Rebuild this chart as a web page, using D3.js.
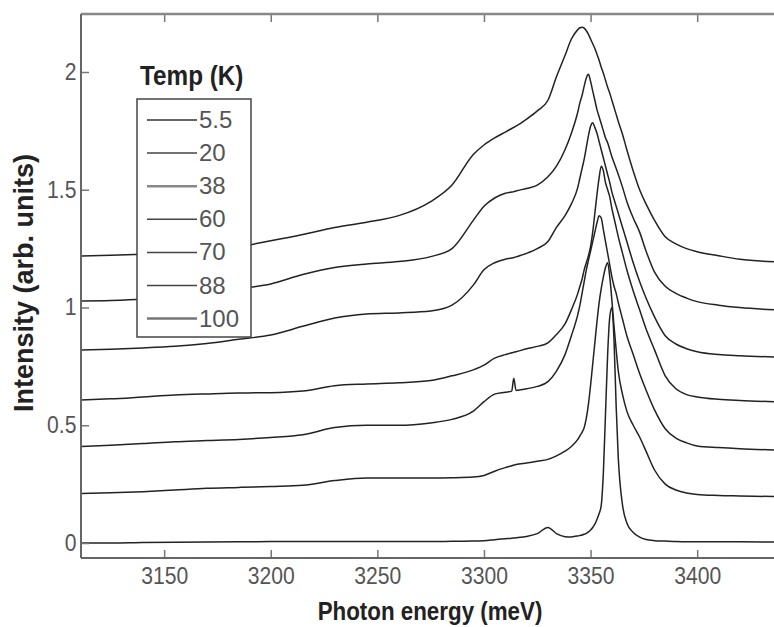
<!DOCTYPE html>
<html>
<head>
<meta charset="utf-8">
<title>PL spectra</title>
<script src="https://d3js.org/d3.v7.min.js"></script>
<style>
	body { margin: 0; background: #fff; }
	svg { display: block; font-family: 'Liberation Sans', Arial, sans-serif; }
	.axis path { display: none; }
	.axis line { stroke: #777; stroke-width: 1.5; }
	.axis text { fill: #555; font-size: 23px; }
	.curve { fill: none; stroke: #222; stroke-width: 1.5; }
</style>
</head>
<body>
<div id="chart"></div>
<script>
	// Photon energy grid (meV), shared by every spectrum.
	const energy = [
		3111, 3125, 3140, 3155, 3170, 3185, 3200, 3215, 3230, 3245, 3260, 3275,
		3285, 3295, 3300, 3305, 3310, 3313, 3314, 3315, 3320, 3325, 3330,
		3334, 3338, 3341, 3344,
		3345, 3346, 3347, 3348, 3349, 3350, 3351, 3352, 3353, 3354, 3355, 3356, 3357, 3358, 3359, 3360, 3361, 3362, 3363,
		3365, 3367, 3370, 3373, 3376, 3380, 3385, 3390, 3395, 3400, 3410, 3420, 3436
	];

	const temps = ['5.5', '20', '38', '60', '70', '88', '100'];

	// Intensities (already offset by 0.2 per temperature, as plotted).
	const int5_5 = [
		0.000, 0.000, 0.002, 0.003, 0.004, 0.005, 0.006, 0.006, 0.006, 0.006, 0.006, 0.006,
		0.007, 0.008, 0.010, 0.014, 0.018, 0.020, 0.021, 0.022, 0.028, 0.040, 0.066,
		0.040, 0.027, 0.026, 0.030,
		0.032, 0.034, 0.037, 0.041, 0.047, 0.055, 0.066, 0.080, 0.100, 0.125, 0.160, 0.300, 0.550, 0.800, 0.960, 1.000, 0.860, 0.580, 0.360,
		0.160, 0.085, 0.045, 0.025, 0.015, 0.010, 0.008, 0.006, 0.005, 0.005, 0.005, 0.005, 0.004
	];
	const int20 = [
		0.210, 0.213, 0.218, 0.225, 0.232, 0.236, 0.240, 0.245, 0.265, 0.276, 0.276, 0.276,
		0.277, 0.280, 0.287, 0.305, 0.320, 0.328, 0.331, 0.333, 0.340, 0.347, 0.355,
		0.370, 0.390, 0.410, 0.440,
		0.455, 0.470, 0.490, 0.530, 0.590, 0.670, 0.760, 0.850, 0.940, 1.020, 1.080, 1.130, 1.170, 1.190, 1.130, 1.030, 0.920, 0.820, 0.730,
		0.630, 0.560, 0.500, 0.450, 0.390, 0.310, 0.250, 0.225, 0.212, 0.206, 0.202, 0.200, 0.197
	];
	const int38 = [
		0.410, 0.415, 0.422, 0.430, 0.435, 0.440, 0.448, 0.460, 0.490, 0.500, 0.500, 0.510,
		0.525, 0.560, 0.600, 0.632, 0.640, 0.645, 0.700, 0.648, 0.655, 0.665, 0.685,
		0.730, 0.800, 0.880, 0.970,
		1.010, 1.060, 1.110, 1.160, 1.200, 1.240, 1.280, 1.320, 1.360, 1.390, 1.380, 1.330, 1.280, 1.230, 1.180, 1.130, 1.090, 1.060, 1.020,
		0.950, 0.880, 0.800, 0.720, 0.650, 0.565, 0.485, 0.445, 0.425, 0.412, 0.405, 0.400, 0.395
	];
	const int60 = [
		0.607, 0.612, 0.620, 0.628, 0.633, 0.637, 0.638, 0.645, 0.668, 0.675, 0.680, 0.690,
		0.710, 0.735, 0.755, 0.785, 0.800, 0.808, 0.810, 0.812, 0.825, 0.835, 0.850,
		0.885, 0.930, 0.990, 1.060,
		1.090, 1.120, 1.160, 1.190, 1.220, 1.260, 1.320, 1.400, 1.480, 1.550, 1.600, 1.580, 1.530, 1.500, 1.470, 1.420, 1.380, 1.340, 1.300,
		1.230, 1.160, 1.070, 0.990, 0.910, 0.820, 0.710, 0.655, 0.630, 0.620, 0.610, 0.605, 0.600
	];
	const int70 = [
		0.820, 0.823, 0.828, 0.835, 0.847, 0.865, 0.883, 0.920, 0.955, 0.972, 0.977, 0.985,
		1.010, 1.095, 1.160, 1.190, 1.205, 1.210, 1.212, 1.215, 1.230, 1.250, 1.280,
		1.340, 1.390, 1.440, 1.510,
		1.550, 1.590, 1.630, 1.680, 1.730, 1.770, 1.785, 1.765, 1.740, 1.705, 1.670, 1.635, 1.600, 1.565, 1.530, 1.490, 1.460, 1.430, 1.400,
		1.340, 1.280, 1.190, 1.110, 1.040, 0.960, 0.880, 0.845, 0.825, 0.812, 0.800, 0.795, 0.790
	];
	const int88 = [
		1.028, 1.030, 1.035, 1.045, 1.060, 1.080, 1.100, 1.140, 1.170, 1.185, 1.195, 1.216,
		1.250, 1.370, 1.430, 1.465, 1.485, 1.490, 1.492, 1.495, 1.505, 1.520, 1.555,
		1.600, 1.670, 1.740, 1.830,
		1.870, 1.900, 1.940, 1.975, 1.990, 1.960, 1.920, 1.880, 1.840, 1.810, 1.780, 1.750, 1.720, 1.700, 1.670, 1.640, 1.615, 1.590, 1.565,
		1.510, 1.450, 1.380, 1.320, 1.240, 1.150, 1.090, 1.060, 1.040, 1.025, 1.010, 1.000, 0.990
	];
	const int100 = [
		1.219, 1.222, 1.226, 1.232, 1.240, 1.258, 1.283, 1.310, 1.340, 1.362, 1.390, 1.450,
		1.520, 1.650, 1.690, 1.720, 1.745, 1.760, 1.765, 1.770, 1.800, 1.835, 1.880,
		1.980, 2.070, 2.140, 2.180,
		2.188, 2.190, 2.186, 2.175, 2.160, 2.140, 2.120, 2.100, 2.075, 2.050, 2.020, 1.995, 1.965, 1.935, 1.910, 1.880, 1.850, 1.820, 1.790,
		1.735, 1.670, 1.580, 1.500, 1.440, 1.370, 1.300, 1.270, 1.250, 1.237, 1.220, 1.205, 1.194
	];

	const xTicks = [3150, 3200, 3250, 3300, 3350, 3400];
	const yTicks = [0, 0.5, 1, 1.5, 2];

	const series = [int5_5, int20, int38, int60, int70, int88, int100];
	// Legend swatches: a couple of them render lighter/thicker in the original.
	const legendColor = ['#333', '#444', '#888', '#444', '#444', '#444', '#777'];
	const legendWidth = [1.5, 1.5, 2.5, 1.5, 1.5, 1.5, 2.5];

	const W = 774, H = 627;
	// The right edge of the frame sits just outside the picture.
	const plot = {left: 81, right: 791, top: 14, bottom: 558};

	const svg = d3.select('#chart').append('svg')
		.attr('width', W)
		.attr('height', H);

	const x = d3.scaleLinear()
		.domain([3111, 3444])
		.range([plot.left, plot.right]);
	const y = d3.scaleLinear()
		.domain([-0.0637, 2.2463])
		.range([plot.bottom, plot.top]);

	// Curves.
	const line = d3.line()
		.x(d => x(d[0]))
		.y(d => y(d[1]))
		.curve(d3.curveMonotoneX);

	svg.append('g')
		.selectAll('path')
		.data(series)
		.join('path')
		.attr('class', 'curve')
		.attr('d', s => line(energy.map((e, i) => [e, s[i]])));

	// Axes, ticks pointing inward.
	const bottomAxis = svg.append('g')
		.attr('class', 'axis')
		.attr('transform', 'translate(0,' + plot.bottom + ')')
		.call(d3.axisBottom(x).tickValues(xTicks).tickFormat(d3.format('d'))
			.tickSizeInner(-8).tickSizeOuter(0).tickPadding(10));
	bottomAxis.selectAll('text').attr('transform', 'scale(0.92,1)');

	svg.append('g')
		.attr('class', 'axis')
		.attr('transform', 'translate(0,' + plot.top + ')')
		.call(d3.axisTop(x).tickValues(xTicks).tickFormat('')
			.tickSizeInner(-8).tickSizeOuter(0));

	const leftAxis = svg.append('g')
		.attr('class', 'axis')
		.attr('transform', 'translate(' + plot.left + ',0)')
		.call(d3.axisLeft(y).tickValues(yTicks).tickFormat(d3.format('~g'))
			.tickSizeInner(-8).tickSizeOuter(0).tickPadding(5));
	leftAxis.selectAll('text').attr('transform', 'scale(0.92,1)');

	// Frame.
	svg.append('line')
		.attr('x1', plot.left).attr('x2', plot.right)
		.attr('y1', plot.top).attr('y2', plot.top)
		.attr('stroke', '#888').attr('stroke-width', 2.5);
	svg.append('line')
		.attr('x1', plot.left).attr('x2', plot.right)
		.attr('y1', plot.bottom).attr('y2', plot.bottom)
		.attr('stroke', '#666').attr('stroke-width', 2);
	svg.append('line')
		.attr('x1', plot.left).attr('x2', plot.left)
		.attr('y1', plot.top).attr('y2', plot.bottom)
		.attr('stroke', '#666').attr('stroke-width', 2);

	// Axis titles.
	svg.append('text')
		.attr('transform', 'translate(430,620) scale(0.86,1)')
		.attr('text-anchor', 'middle')
		.attr('font-size', 26)
		.attr('font-weight', 'bold')
		.attr('fill', '#222')
		.text('Photon energy (meV)');

	svg.append('text')
		.attr('transform', 'translate(33,283) rotate(-90)')
		.attr('text-anchor', 'middle')
		.attr('font-size', 27)
		.attr('font-weight', 'bold')
		.attr('fill', '#222')
		.text('Intensity (arb. units)');

	// Legend.
	const legend = svg.append('g');
	legend.append('text')
		.attr('transform', 'translate(140,85) scale(0.9,1)')
		.attr('font-size', 27)
		.attr('font-weight', 'bold')
		.attr('fill', '#222')
		.text('Temp (K)');
	legend.append('rect')
		.attr('x', 137).attr('y', 99)
		.attr('width', 114).attr('height', 238)
		.attr('fill', '#fff')
		.attr('stroke', '#444')
		.attr('stroke-width', 1.5);

	const items = legend.selectAll('g.item')
		.data(temps)
		.join('g')
		.attr('class', 'item')
		.attr('transform', (d, i) => 'translate(0,' + (120 + i * 33.1) + ')');
	items.append('line')
		.attr('x1', 147).attr('x2', 197)
		.attr('stroke', (d, i) => legendColor[i])
		.attr('stroke-width', (d, i) => legendWidth[i]);
	items.append('text')
		.attr('x', 199).attr('y', 8)
		.attr('font-size', 24)
		.attr('fill', '#555')
		.text(d => d);
</script>
</body>
</html>
